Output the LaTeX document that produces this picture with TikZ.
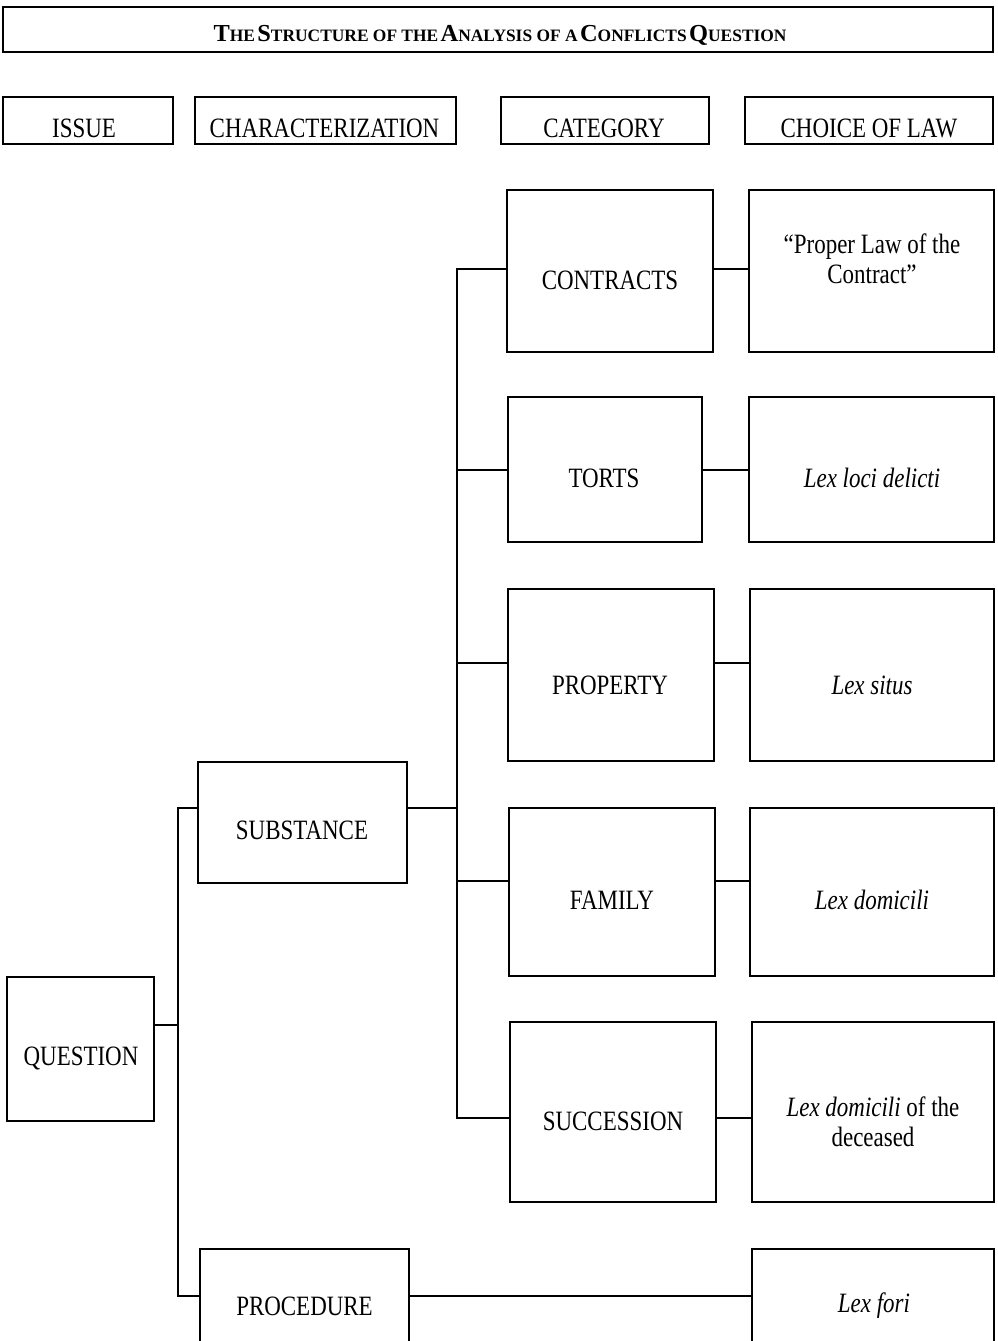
\documentclass[tikz,border=0pt]{standalone}
\usepackage{fontspec}
\setmainfont[FakeStretch=0.82]{Liberation Serif}
\newfontfamily\titlefont{Liberation Serif}
\newcommand\tscw[2]{{\fontsize{24.4}{24}\selectfont #1}{\fontsize{17.4}{17}\selectfont #2}}
\begin{document}
\begin{tikzpicture}[x=1pt,y=-1pt,
  box/.style={draw=black, line width=1.5pt, inner sep=0pt, fill=none},
  lbl/.style={inner sep=0pt, align=center, font=\fontsize{28}{30}\selectfont},
  conn/.style={draw=black, line width=1.5pt}]
\useasboundingbox (0,0) rectangle (997,1341);
\clip (0,0) rectangle (997,1341);
% title
\node[box, minimum width=990, minimum height=45] (title) at (498,29.5) {};
\node[inner sep=0pt, font=\titlefont\bfseries] (titleT) at (500,35)
  {\tscw{T}{HE} \tscw{S}{TRUCTURE OF THE} \tscw{A}{NALYSIS OF A} \tscw{C}{ONFLICTS} \tscw{Q}{UESTION}};
% headers
\node[box, minimum width=170, minimum height=47] (issue) at (88,120.5) {};
\node[box, minimum width=261, minimum height=47] (charh) at (325.5,120.5) {};
\node[box, minimum width=208, minimum height=47] (cath) at (605,120.5) {};
\node[box, minimum width=248, minimum height=47] (lawh) at (869,120.5) {};
\node[lbl] (issueT) at (84,128) {ISSUE};
\node[lbl] (charhT) at (324.5,128) {CHARACTERIZATION};
\node[lbl] (cathT) at (604,128) {CATEGORY};
\node[lbl] (lawhT) at (869,128) {CHOICE OF LAW};
% category boxes
\node[box, minimum width=206, minimum height=162] (contracts) at (610,271) {};
\node[box, minimum width=245, minimum height=162] (proper) at (871.5,271) {};
\node[box, minimum width=194, minimum height=145] (torts) at (605,469.5) {};
\node[box, minimum width=245, minimum height=145] (lld) at (871.5,469.5) {};
\node[box, minimum width=206, minimum height=172] (property) at (611,675) {};
\node[box, minimum width=244, minimum height=172] (situs) at (872,675) {};
\node[box, minimum width=206, minimum height=168] (family) at (612,892) {};
\node[box, minimum width=244, minimum height=168] (domicili) at (872,892) {};
\node[box, minimum width=206, minimum height=180] (succession) at (613,1112) {};
\node[box, minimum width=242, minimum height=180] (domdec) at (873,1112) {};
\node[box, minimum width=209, minimum height=121] (substance) at (302.5,822.5) {};
\node[box, minimum width=147, minimum height=144] (question) at (80.5,1049) {};
\node[box, minimum width=209, minimum height=171] (procedure) at (304.5,1334.5) {};
\node[box, minimum width=242, minimum height=171] (fori) at (873,1334.5) {};
% texts
\node[lbl] (contractsT) at (610,280) {CONTRACTS};
\node[lbl] (properT) at (872,259) {“Proper Law of the\\Contract”};
\node[lbl] (tortsT) at (604,478) {TORTS};
\node[lbl] (lldT) at (872,478) {\itshape Lex loci delicti};
\node[lbl] (propertyT) at (610,685) {PROPERTY};
\node[lbl] (situsT) at (872,685) {\itshape Lex situs};
\node[lbl] (familyT) at (612,900) {FAMILY};
\node[lbl] (domiciliT) at (872,900) {\itshape Lex domicili};
\node[lbl] (successionT) at (613,1121) {SUCCESSION};
\node[lbl] (domdecT) at (873,1122) {\textit{Lex domicili} of the\\deceased};
\node[lbl] (substanceT) at (302,830) {SUBSTANCE};
\node[lbl] (questionT) at (81,1058) {QUESTION};
\node[lbl] (procedureT) at (304.5,1306) {PROCEDURE};
\node[lbl] (foriT) at (874,1306) {\itshape Lex fori};
% junction coordinates
\coordinate (itop) at (178,808);
\coordinate (ibot) at (178,1296);
\coordinate (iq) at (178,1025);
\coordinate (ctop) at (457,269);
\coordinate (cbot) at (457,1118);
\coordinate (cs) at (457,808);
\coordinate (ct) at (457,470);
\coordinate (cp) at (457,663);
\coordinate (cf) at (457,881);
% issue trunk
\draw[conn] (substance.west |- itop) -- (itop) -- (ibot) -- (procedure.west |- ibot);
\draw[conn] (question.east |- iq) -- (iq);
\draw[conn] (procedure.east |- ibot) -- (fori.west |- ibot);
% category trunk
\draw[conn] (substance.east |- cs) -- (cs);
\draw[conn] (contracts.west |- ctop) -- (ctop) -- (cbot) -- (succession.west |- cbot);
\draw[conn] (ct) -- (torts.west |- ct);
\draw[conn] (cp) -- (property.west |- cp);
\draw[conn] (cf) -- (family.west |- cf);
% choice of law connectors
\draw[conn] (contracts.east |- ctop) -- (proper.west |- ctop);
\draw[conn] (torts.east |- ct) -- (lld.west |- ct);
\draw[conn] (property.east |- cp) -- (situs.west |- cp);
\draw[conn] (family.east |- cf) -- (domicili.west |- cf);
\draw[conn] (succession.east |- cbot) -- (domdec.west |- cbot);
\end{tikzpicture}
\end{document}
